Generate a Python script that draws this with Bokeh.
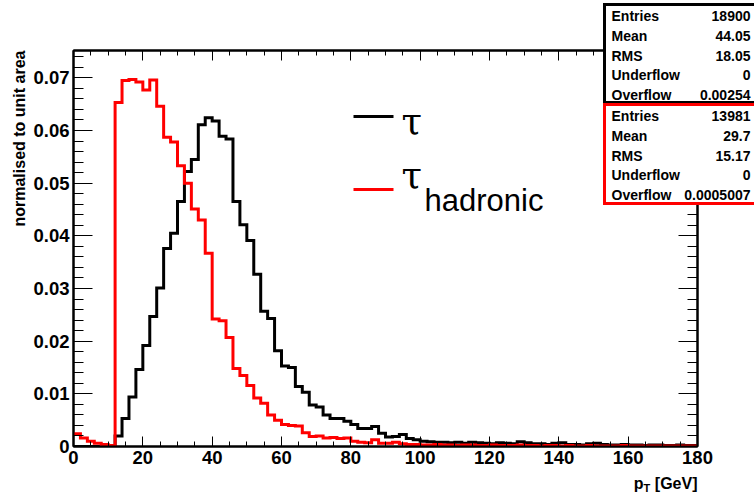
import math
from bokeh.plotting import figure
from bokeh.models import (Range1d, LinearAxis, SingleIntervalTicker, CustomJSTickFormatter,
                          Label, GridBox)
from bokeh.embed import file_html
from bokeh.resources import INLINE

# ---------------- data ----------------
bin_edges = list(range(0, 182, 2))  # 90 bins of 2 GeV, 0..180

tau_all = [
    0, 0, 0, 0, 0, 0, 0.0020, 0.0053, 0.0094, 0.0146,
    0.0192, 0.0247, 0.0301, 0.0376, 0.0405, 0.0465, 0.0522, 0.0545, 0.0611, 0.0624,
    0.0618, 0.0589, 0.0584, 0.0465, 0.0421, 0.0391, 0.0327, 0.0257, 0.0243, 0.0182,
    0.0153, 0.0150, 0.0114, 0.0103, 0.0079, 0.0075, 0.0060, 0.0053, 0.0053, 0.0048,
    0.0042, 0.0034, 0.0034, 0.0038, 0.0025, 0.0018, 0.0019, 0.0023, 0.0015, 0.0013,
    0.0010, 0.0009, 0.0008, 0.0008, 0.0007, 0.0008, 0.0006, 0.0008, 0.0007, 0.0006,
    0.0005, 0.0007, 0.0006, 0.0005, 0.0009, 0.0007, 0.0005, 0.0005, 0.0004, 0.0006,
    0.0007, 0.0004, 0.0004, 0.0003, 0.0005, 0.0006, 0.0004, 0.0003, 0.0003, 0.0004,
    0.0003, 0.0003, 0.0002, 0.0003, 0.0003, 0.0002, 0.0002, 0.0003, 0.0002, 0.0002,
]

tau_hadronic = [
    0.0024, 0.0016, 0.0010, 0.0006, 0.0004, 0.0002, 0.0653, 0.0695, 0.0697, 0.0692,
    0.0677, 0.0696, 0.0646, 0.0587, 0.0578, 0.0533, 0.0500, 0.0451, 0.0430, 0.0367,
    0.0242, 0.0239, 0.0207, 0.0148, 0.0135, 0.0116, 0.0092, 0.0082, 0.0060, 0.0050,
    0.0042, 0.0040, 0.0039, 0.0026, 0.0019, 0.0020, 0.0016, 0.0017, 0.0015, 0.0016,
    0.0010, 0.0008, 0.0007, 0.0013, 0.0006, 0.0006, 0.0008, 0.0005, 0.0004, 0.0004,
    0.0003, 0.0003, 0.0004, 0.0003, 0.0003, 0.0002, 0.0003, 0.0003, 0.0002, 0.0002,
    0.0003, 0.0002, 0.0002, 0.0002, 0.0003, 0.0002, 0.0002, 0.0001, 0.0002, 0.0002,
    0.0001, 0.0002, 0.0001, 0.0001, 0.0002, 0.0001, 0.0001, 0.0001, 0.0001, 0.0002,
    0.0001, 0.0001, 0.0001, 0.0001, 0.0001, 0.0001, 0.0001, 0.0001, 0.0001, 0.0001,
]

series_labels = ["τ", "τ"]
series_subscripts = ["", "hadronic"]
series_colors = ["black", "red"]

stats_names = ["Entries", "Mean", "RMS", "Underflow", "Overflow"]
stats_tau = ["18900", "44.05", "18.05", "0", "0.00254"]
stats_hadronic = ["13981", "29.7", "15.17", "0", "0.0005007"]

x_title = ["p", "T", "[GeV]"]
y_title = "normalised to unit area"

x_ticks_interval = 20
y_ticks_interval = 0.01

# ---------------- layout (pixels) ----------------
W, H = 754, 497
FL, FR, FT, FB = 73, 697, 50, 446
X0, X1 = 0.0, 180.0
Y0, Y1 = 0.0, 0.07519
FONT = "Liberation Sans"

p = figure(width=W, height=H, output_backend="svg", toolbar_location=None,
           x_range=Range1d(X0, X1), y_range=Range1d(Y0, Y1),
           min_border_left=FL, min_border_right=W - FR,
           min_border_top=FT, min_border_bottom=H - FB,
           background_fill_color="white", border_fill_color="white")
p.frame_align = False
p.xgrid.visible = False
p.ygrid.visible = False
p.outline_line_color = "black"
p.outline_line_width = 2


def style_axis(ax, major_in, minor_in, labels=True):
    ax.major_tick_in = major_in
    ax.major_tick_out = 0
    ax.minor_tick_in = minor_in
    ax.minor_tick_out = 0
    ax.axis_line_width = 2
    ax.axis_line_color = "black"
    ax.major_tick_line_color = "black"
    ax.minor_tick_line_color = "black"
    ax.major_tick_line_width = 1
    ax.minor_tick_line_width = 1
    ax.major_label_text_font = FONT
    ax.major_label_text_font_style = "bold"
    ax.major_label_text_font_size = "18.5px"
    ax.major_label_text_color = "black"
    ax.major_label_standoff = 4
    if not labels:
        ax.formatter = CustomJSTickFormatter(code="return '';")


xa = p.xaxis[0]
xa.ticker = SingleIntervalTicker(interval=x_ticks_interval, num_minor_ticks=4)
style_axis(xa, 10, 5)

ya = p.yaxis[0]
ya.ticker = SingleIntervalTicker(interval=y_ticks_interval, num_minor_ticks=5)
ya.formatter = CustomJSTickFormatter(code="return Math.abs(tick) < 1e-9 ? '0' : tick.toFixed(2);")
style_axis(ya, 19, 10)

top_ax = LinearAxis(ticker=SingleIntervalTicker(interval=x_ticks_interval, num_minor_ticks=4))
style_axis(top_ax, 10, 5, labels=False)
p.add_layout(top_ax, "above")

right_ax = LinearAxis(ticker=SingleIntervalTicker(interval=y_ticks_interval, num_minor_ticks=5))
style_axis(right_ax, 19, 10, labels=False)
p.add_layout(right_ax, "right")

# ---------------- histograms ----------------
xs = bin_edges[:-1] + [bin_edges[-1]]
for vals, col in zip([tau_all, tau_hadronic], series_colors):
    p.step(x=xs, y=vals + [vals[-1]], mode="after",
           line_color=col, line_width=3, line_join="miter")

# ---------------- overlay canvas for decorations (pixel coordinates) ----------------
q = figure(width=W, height=H, output_backend="svg", toolbar_location=None,
           x_range=Range1d(0, W), y_range=Range1d(0, H),
           x_axis_type=None, y_axis_type=None,
           min_border_left=0, min_border_right=0, min_border_top=0, min_border_bottom=0)
q.frame_align = False
q.background_fill_alpha = 0
q.border_fill_alpha = 0
q.outline_line_color = None
q.xgrid.visible = False
q.ygrid.visible = False


def Y(py):
    return H - py


def add_text(x, y, text, size, align="left", baseline="alphabetic", font=FONT,
             style="bold", color="black", angle=0.0):
    q.add_layout(Label(x=x, y=Y(y), text=text, text_font=font, text_font_style=style,
                       text_font_size=size, text_align=align, text_baseline=baseline,
                       text_color=color, angle=angle))


# legend
legend_rows = [116, 189]
tau_y = [121, 175]
for row_y, ty, lab, sub, col in zip(legend_rows, tau_y, series_labels, series_subscripts, series_colors):
    q.line(x=[353, 393], y=[Y(row_y), Y(row_y)], line_color=col, line_width=3)
    add_text(401, ty, lab, "37px", font="DejaVu Serif", style="normal")
    if sub:
        add_text(424, 200, sub, "31px", style="normal")

# axis titles
add_text(19, FT, y_title, "16px", align="right", angle=math.pi / 2)
add_text(FR, 483, x_title[2], "16px", align="right")
add_text(643, 483, x_title[0], "16px", align="right")
add_text(643, 487, x_title[1], "11px", align="left")

# stats boxes
boxes = [(4, 102, "black", stats_tau), (104, 203, "red", stats_hadronic)]
for top, bottom, col, vals in boxes:
    q.quad(left=[604], right=[760], top=[Y(top)], bottom=[Y(bottom)],
           fill_color="white", line_color=col, line_width=3, line_join="miter")
    for i, (name, v) in enumerate(zip(stats_names, vals)):
        yc = top + 11.5 + i * 19.8
        add_text(611, yc, name, "14px", baseline="middle")
        add_text(750, yc, v, "14px", align="right", baseline="middle")

layout = GridBox(children=[(p, 0, 0), (q, 0, 0)])
open("out.html", "w").write(file_html(layout, INLINE))
